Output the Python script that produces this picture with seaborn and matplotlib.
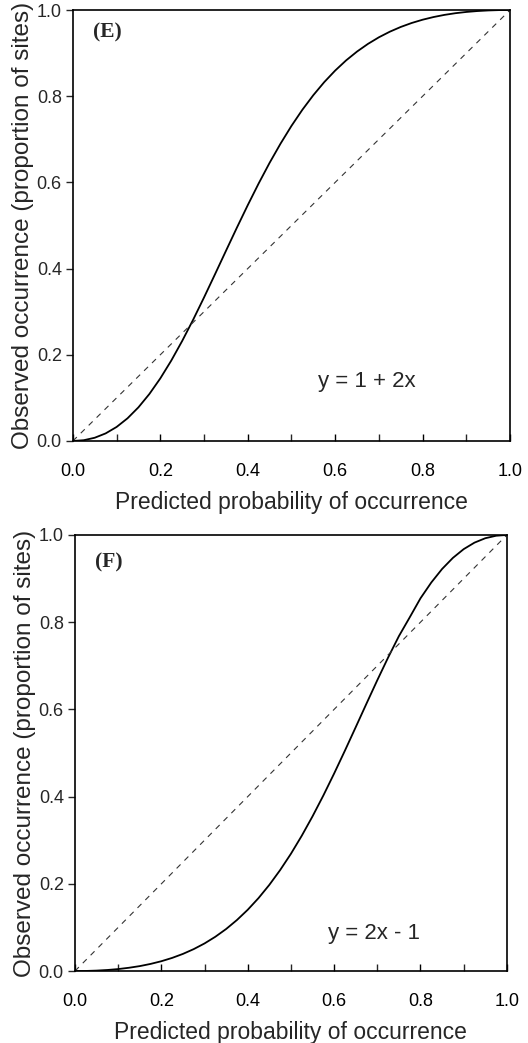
import numpy as np
import pandas as pd
import seaborn as sns
import matplotlib.pyplot as plt

# predicted probability (x)
pred = [0.0, 0.025, 0.05, 0.075, 0.10, 0.125, 0.15, 0.175, 0.20, 0.225, 0.25,
        0.275, 0.30, 0.325, 0.35, 0.375, 0.40, 0.425, 0.45, 0.475, 0.50,
        0.525, 0.55, 0.575, 0.60, 0.625, 0.65, 0.675, 0.70, 0.725, 0.75,
        0.775, 0.80, 0.825, 0.85, 0.875, 0.90, 0.925, 0.95, 0.975, 1.0]

# panel E: y = 1 + 2x
obs_e = [0.0, 0.0018, 0.0075, 0.0176, 0.0325, 0.0526, 0.0781, 0.1090, 0.1452, 0.1864, 0.2320,
         0.2811, 0.3330, 0.3866, 0.4408, 0.4946, 0.5471, 0.5976, 0.6454, 0.6899, 0.7311,
         0.7686, 0.8024, 0.8327, 0.8595, 0.8831, 0.9036, 0.9214, 0.9367, 0.9497, 0.9607,
         0.9699, 0.9775, 0.9837, 0.9887, 0.9926, 0.9955, 0.9976, 0.9990, 0.9998, 1.0]

# panel F: y = 2x - 1
obs_f = [0.0, 0.0002, 0.0010, 0.0024, 0.0045, 0.0075, 0.0113, 0.0163, 0.0225, 0.0301, 0.0393,
         0.0503, 0.0633, 0.0786, 0.0964, 0.1170, 0.1405, 0.1673, 0.1976, 0.2315, 0.2689,
         0.3101, 0.3547, 0.4024, 0.4529, 0.5054, 0.5592, 0.6134, 0.6670, 0.7189, 0.7680,
         0.8110, 0.8548, 0.8910, 0.9220, 0.9474, 0.9675, 0.9824, 0.9925, 0.9982, 1.0]

diag = [0.0, 1.0]
ticks = [0.0, 0.2, 0.4, 0.6, 0.8, 1.0]
tick_labels = ["0.0", "0.2", "0.4", "0.6", "0.8", "1.0"]

panels = [
    ("(E)", obs_e, "y = 1 + 2x", (0.56, 0.137), (0.046, 0.947), [0.138, 0.5772, 0.828, 0.4132]),
    ("(F)", obs_f, "y = 2x - 1", (0.585, 0.085), (0.046, 0.936), [0.142, 0.0690, 0.818, 0.4181]),
]


def draw_panel(fig, tag, obs, eq, eq_pos, tag_pos, rect):
    ax = fig.add_axes(rect)
    df = pd.DataFrame({"pred": pred, "obs": obs})
    sns.lineplot(data=df, x="pred", y="obs", ax=ax, color="black", lw=1.3)
    sns.lineplot(x=diag, y=diag, ax=ax, color="#333333", lw=0.8, linestyle=(0, (5, 5)))
    ax.set_xlim(0, 1)
    ax.set_ylim(0, 1)
    ax.set_xticks(ticks)
    ax.set_xticklabels(tick_labels)
    ax.set_yticks(ticks)
    ax.set_yticklabels(tick_labels)
    ax.set_xticks(np.arange(0.1, 1.0, 0.2), minor=True)
    ax.tick_params(axis="x", direction="in", length=5, width=1, labelsize=13, pad=16,
                   colors="black")
    ax.tick_params(axis="x", which="minor", direction="in", length=5, width=1)
    ax.tick_params(axis="y", direction="out", length=5, width=1, labelsize=13, pad=3)
    ax.set_xlabel("Predicted probability of occurrence", fontsize=16.5, labelpad=8)
    ax.set_ylabel("Observed occurrence (proportion of sites)", fontsize=17.5, labelpad=2)
    for s in ax.spines.values():
        s.set_visible(True)
        s.set_linewidth(1.2)
        s.set_color("black")
    ax.text(eq_pos[0], eq_pos[1], eq, transform=ax.transAxes, fontsize=16,
            ha="left", va="center")
    ax.text(tag_pos[0], tag_pos[1], tag, transform=ax.transAxes, fontsize=15.5,
            fontweight="bold", family=["Liberation Serif", "DejaVu Serif"],
            ha="left", va="center")
    ax.grid(False)
    return ax


sns.set_style("ticks")
plt.rcParams["font.family"] = ["Liberation Sans", "DejaVu Sans"]

fig = plt.figure(figsize=(5.28, 10.43), dpi=100)
for tag, obs, eq, eq_pos, tag_pos, rect in panels:
    draw_panel(fig, tag, obs, eq, eq_pos, tag_pos, rect)

fig.savefig("out.png", dpi=100, facecolor="white")
